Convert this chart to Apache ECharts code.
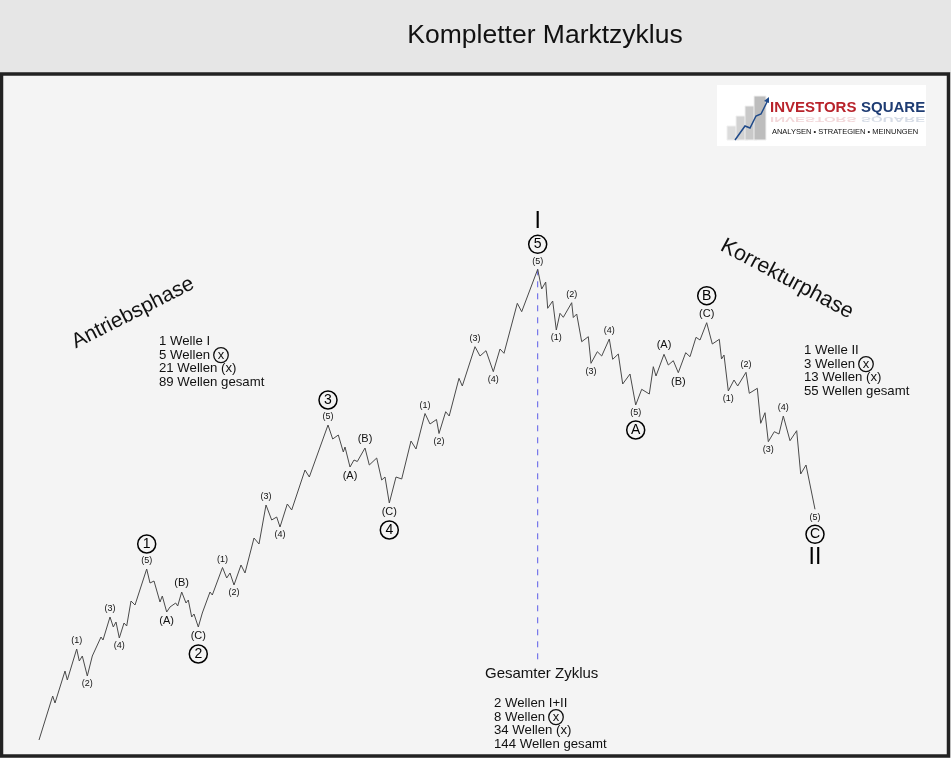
<!DOCTYPE html>
<html>
<head>
<meta charset="utf-8">
<script src="https://cdn.jsdelivr.net/npm/echarts@6/dist/echarts.min.js"></script>
<style>html,body{margin:0;padding:0;background:#f4f4f4;}#c{width:951px;height:758px;}</style>
</head>
<body>
<div id="c"></div>
<script>
// time steps (horizontal) of every wave turning point
const time = [39,52.7,55,65,67.3,76.7,79.3,82.3,87.3,92.3,94,101,103,110,113.3,116,119.3,124,126.7,131,135,146.7,
150,154,160,162.3,166.7,170,171.7,175.7,177.7,181.7,186,188.3,191.7,194,198.3,
202.3,204,210,212.3,222.5,226.7,230,234,241,245,254,259,266,271.7,276.7,280,287.3,291.7,305,309.3,328,
332.7,338.3,343.3,345,350,354,357.3,365,369.3,376.7,381.7,385,389.3,
396,401.7,411,416,425,430,436.5,439,445.7,449.2,459,462.3,475,480,486,493.3,500,504,517.3,521.7,537.7,
541.7,545.7,547.7,552.7,556.3,560,563.3,571.7,573.3,576.7,581.7,588.3,591,597.3,601.7,609.3,612.7,618.3,622.7,630,635.7,
641.7,649.3,653.3,656,664,668.3,673.3,678.3,685.7,690,696,700,706.7,
712.3,719.3,721.5,724,728.3,734,737.7,746,749.3,757.3,760.7,765,768.3,774.3,779,783.3,790,796.7,800.7,806,815];
// price level of every turning point
const level = [18,62,55,87,78,109,97,102,82,102,100,121,118,141,131,136,120,135,132,157,153,189,
175,177,156,162,146,151,149,155,152,166,155,158,141,144,131,
145,143,166,163,190.5,180,185,173,193,185,220,214,253,238,241,231,254,248,288,281,333,
319,323,306,311,291,298,296.5,310,293,300,278,281,255,
281,279,317,309,344.5,334,338.5,324.5,346.3,342,379.7,372,411.3,402,407.3,386.3,409,404.7,454.7,446.3,488.7,
469,476,449.7,457,428,444.7,440.7,455.3,440.5,444,416.3,421.3,394.7,406.3,402,419,398.7,404,374,384,353,
368.7,364,391.3,382,403.7,393,397.3,385.3,405.3,401.3,420.7,418,435.3,
414,418.7,399,403,367,378,372,385.7,364.7,369.7,334.7,345.3,316.3,326.3,324,342,317.3,327.3,284,293,248.7];
// wave labels: [time, sub-wave label, side, circled degree label, roman label]
const waveLabels = [
 [76.7,'(1)','top','',''],[87.3,'(2)','bottom','',''],[110,'(3)','top','',''],[119.3,'(4)','bottom','',''],
 [146.7,'(5)','top','1',''],[166.7,'(A)','bottom','',''],[181.7,'(B)','top','',''],[198.3,'(C)','bottom','2',''],
 [222.5,'(1)','top','',''],[234,'(2)','bottom','',''],[266,'(3)','top','',''],[280,'(4)','bottom','',''],
 [328,'(5)','top','3',''],[350,'(A)','bottom','',''],[365,'(B)','top','',''],[389.3,'(C)','bottom','4',''],
 [425,'(1)','top','',''],[439,'(2)','bottom','',''],[475,'(3)','top','',''],[493.3,'(4)','bottom','',''],
 [537.7,'(5)','top','5','I'],
 [556.3,'(1)','bottom','',''],[571.7,'(2)','top','',''],[591,'(3)','bottom','',''],[609.3,'(4)','top','',''],
 [635.7,'(5)','bottom','A',''],[664,'(A)','top','',''],[678.3,'(B)','bottom','',''],[706.7,'(C)','top','B',''],
 [728.3,'(1)','bottom','',''],[746,'(2)','top','',''],[768.3,'(3)','bottom','',''],[783.3,'(4)','top','',''],
 [815,'(5)','bottom','C','II']
];
// dashed divider: from the top of wave I down to this level
const dividerTime = 537.7, dividerBottom = 98;

const phaseLeft = ['1 Welle I','5 Wellen {cx|x}','21 Wellen (x)','89 Wellen gesamt'];
const phaseRight = ['1 Welle II','3 Wellen {cx|x}','13 Wellen (x)','55 Wellen gesamt'];
const totalLines = ['2 Wellen I+II','8 Wellen {cx|x}','34 Wellen (x)','144 Wellen gesamt'];

const FONT = '"Liberation Sans", Arial, sans-serif';
const lineData = time.map((t,i)=>[t, level[i]]);
function fmt(p){
  const l = p.data.lab;
  const small = l[1].match(/[A-C]/) ? 'L' : 's';
  const parts = [];
  if(l[2]==='top'){
    if(l[4]) parts.push('{r|'+l[4]+'}');
    if(l[3]) parts.push('{c|'+l[3]+'}');
    parts.push('{'+small+'|'+l[1]+'}');
  } else {
    parts.push('{'+small+'|'+l[1]+'}');
    if(l[3]) parts.push('{c|'+l[3]+'}');
    if(l[4]) parts.push('{r|'+l[4]+'}');
  }
  return parts.join('\n');
}
const rich = {
  s:{fontSize:9,lineHeight:12,color:'#111',fontFamily:FONT},
  L:{fontSize:11,lineHeight:14,color:'#111',fontFamily:FONT},
  c:{fontSize:14,color:'#000',width:16,height:16,lineHeight:22,borderRadius:9,borderWidth:1.5,borderColor:'#000',align:'center',fontFamily:FONT,padding:[1,1,1,1]},
  r:{fontSize:23,lineHeight:24,color:'#000',fontFamily:FONT}
};
const cxRich = {cx:{fontSize:13,color:'#111',lineHeight:13,borderRadius:8,borderWidth:1.3,borderColor:'#111',padding:[1,4,1,4],fontFamily:FONT}};

const labelData = waveLabels.map(l=>{
  const i = time.indexOf(l[0]);
  return {value:[l[0], level[i]], lab:l, label:{position:l[2], distance:2}};
});

const chart = echarts.init(document.getElementById('c'), null, {renderer:'canvas'});
chart.setOption({
  backgroundColor:'#f4f4f4',
  animation:false,
  grid:{left:0,right:0,top:0,bottom:0},
  xAxis:{type:'value',min:0,max:951,show:false},
  yAxis:{type:'value',min:0,max:758,show:false},
  series:[
    {type:'line',data:[[dividerTime, level[time.indexOf(dividerTime)]],[dividerTime, dividerBottom]],symbol:'none',
     lineStyle:{color:'#5c5ce8',width:1,type:[6,6]},z:1,silent:true},
    {type:'line',data:lineData,symbol:'none',lineStyle:{color:'#4a4a4a',width:1},z:3},
    {type:'scatter',data:labelData,symbolSize:0,z:4,itemStyle:{opacity:1},
     label:{show:true,position:'top',distance:2,formatter:fmt,rich:rich,align:'center',color:'#000'}}
  ],
  graphic:[
    {type:'rect',shape:{x:0,y:0,width:951,height:73},style:{fill:'#e6e6e6'},z:10},
    {type:'rect',shape:{x:1.5,y:74,width:947,height:682},style:{fill:'none',stroke:'#222',lineWidth:3.5},z:10},
    {type:'text',x:545,y:36,style:{text:'Kompletter Marktzyklus',font:'26.5px '+FONT,fill:'#111',align:'center',verticalAlign:'middle'},z:11},
    {type:'text',x:133,y:313,rotation:0.47,style:{text:'Antriebsphase',font:'21px '+FONT,fill:'#111',align:'center',verticalAlign:'middle'},z:11},
    {type:'text',x:787,y:279,rotation:-0.49,style:{text:'Korrekturphase',font:'21.5px '+FONT,fill:'#111',align:'center',verticalAlign:'middle'},z:11},
    {type:'text',x:159,y:335,style:{text:phaseLeft.join('\n'),font:'13.2px '+FONT,fill:'#111',lineHeight:13.4,rich:cxRich},z:11},
    {type:'text',x:804,y:344,style:{text:phaseRight.join('\n'),font:'13.2px '+FONT,fill:'#111',lineHeight:13.4,rich:cxRich},z:11},
    {type:'text',x:485,y:674,style:{text:'Gesamter Zyklus',font:'15px '+FONT,fill:'#111',verticalAlign:'middle'},z:11},
    {type:'text',x:494,y:697,style:{text:totalLines.join('\n'),font:'13.2px '+FONT,fill:'#111',lineHeight:13.4,rich:cxRich},z:11},
    // logo
    {type:'group',z:11,children:[
      {type:'rect',shape:{x:717,y:85,width:209,height:61},style:{fill:'#ffffff'}},
      {type:'rect',shape:{x:727,y:126,width:12,height:14},style:{fill:'#dcdcdc',stroke:'#f0f0f0'}},
      {type:'rect',shape:{x:736,y:116,width:12,height:24},style:{fill:'#d2d2d2',stroke:'#f0f0f0'}},
      {type:'rect',shape:{x:745,y:106,width:12,height:34},style:{fill:'#c9c9c9',stroke:'#f0f0f0'}},
      {type:'rect',shape:{x:754,y:96,width:12,height:44},style:{fill:'#bdbdbd',stroke:'#f0f0f0'}},
      {type:'polyline',shape:{points:[[735,140],[745,126],[750,128],[756,116],[761,114],[768,100]]},style:{stroke:'#1f4a8a',lineWidth:1.5,fill:'none'}},
      {type:'polygon',shape:{points:[[769,97],[764,101],[769,103]]},style:{fill:'#1f4a8a'}},
      {type:'text',x:770,y:108,style:{text:'INVESTORS',font:'bold 15px '+FONT,fill:'#b8232b',verticalAlign:'middle'}},
      {type:'text',x:861,y:108,style:{text:'SQUARE',font:'bold 15px '+FONT,fill:'#1e3c73',verticalAlign:'middle'}},
      {type:'text',x:770,y:119,scaleY:-0.5,originX:0,originY:0,style:{text:'INVESTORS',font:'bold 15px '+FONT,fill:'rgba(184,35,43,0.18)',verticalAlign:'middle'}},
      {type:'text',x:861,y:119,scaleY:-0.5,originX:0,originY:0,style:{text:'SQUARE',font:'bold 15px '+FONT,fill:'rgba(30,60,115,0.18)',verticalAlign:'middle'}},
      {type:'text',x:845,y:132,style:{text:'ANALYSEN • STRATEGIEN • MEINUNGEN',font:'7.5px '+FONT,fill:'#111',align:'center',verticalAlign:'middle'}}
    ]}
  ]
});
</script>
</body>
</html>
